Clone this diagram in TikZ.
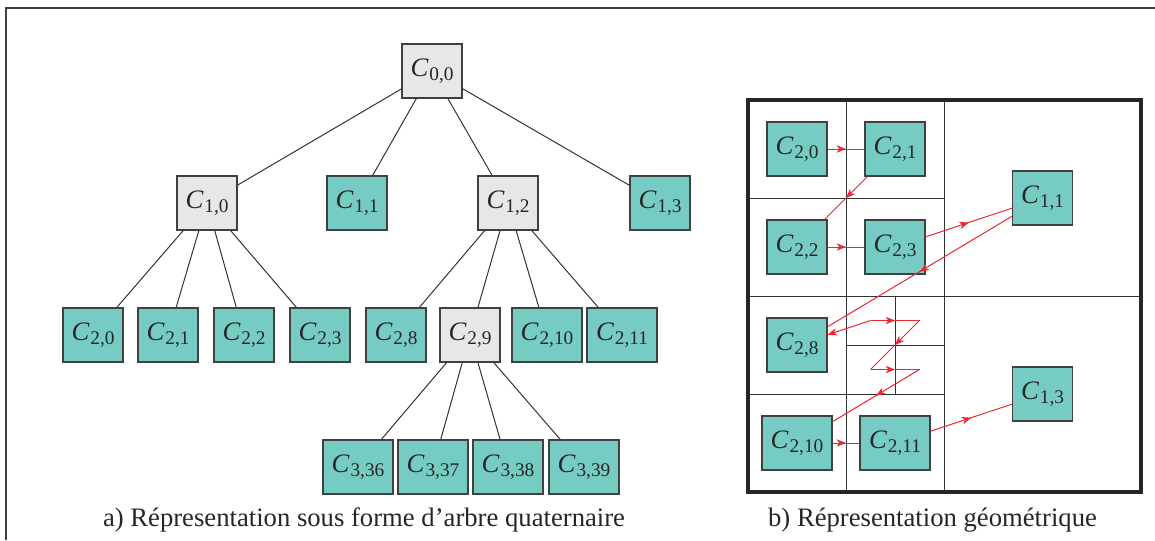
\documentclass[tikz,border=0pt]{standalone}
\usepackage{fontspec}
\setmainfont{Liberation Serif}
\usetikzlibrary{arrows.meta,decorations.markings}

\definecolor{cellteal}{RGB}{118,204,194}
\definecolor{cellgray}{RGB}{230,231,230}
\definecolor{pathred}{RGB}{238,38,48}

% cell label C_{i,j}: italic C with a smaller, slightly lowered index
\newcommand\cellname[1]{\textit{C}\kern0.03em\raisebox{-0.16em}{\fontsize{14.5}{16}\selectfont #1}}

\tikzset{flowtip/.tip={Stealth[length=7pt,width=5.5pt,inset=2pt]}}

\begin{document}
\begin{tikzpicture}[x=0.75pt,y=-0.75pt,
  cellbox/.style={draw=black!75, line width=0.9pt, minimum width=45pt,
    minimum height=40.5pt, inner sep=0pt, text=black!85,
    font=\fontsize{20}{24}\selectfont},
  leafbox/.style={cellbox, fill=cellteal},
  splitbox/.style={cellbox, fill=cellgray},
  widebox/.style={minimum width=52.5pt},
  treeline/.style={draw=black!80, line width=0.75pt},
  cellline/.style={draw=black!80, line width=0.75pt},
  flowline/.style={draw=pathred, line width=0.75pt, postaction=decorate,
    decoration={markings, mark=at position 0.5 with {\arrow{flowtip}}}},
  captext/.style={anchor=base, text=black!85, font=\fontsize{20}{24}\selectfont},
]
\useasboundingbox (0,0) rectangle (1155,540);

% surrounding frame (open to the right and bottom)
\draw[black!75, line width=1.4pt] (6,540) -- (6,8) -- (1155,8);

% ---------- a) quadtree ----------
\node[splitbox] (t00) at (432,71) {\cellname{0,0}};

\node[splitbox] (t10) at (207,203) {\cellname{1,0}};
\node[leafbox]  (t11) at (357,203) {\cellname{1,1}};
\node[splitbox] (t12) at (508,203) {\cellname{1,2}};
\node[leafbox]  (t13) at (660,203) {\cellname{1,3}};

\node[leafbox]  (t20)  at (93,335)  {\cellname{2,0}};
\node[leafbox]  (t21)  at (168,335) {\cellname{2,1}};
\node[leafbox]  (t22)  at (244,335) {\cellname{2,2}};
\node[leafbox]  (t23)  at (320,335) {\cellname{2,3}};
\node[leafbox]  (t28)  at (396,335) {\cellname{2,8}};
\node[splitbox] (t29)  at (470,335) {\cellname{2,9}};
\node[leafbox,widebox] (t210) at (547,335) {\cellname{2,10}};
\node[leafbox,widebox] (t211) at (622,335) {\cellname{2,11}};

\node[leafbox,widebox] (t336) at (358,467) {\cellname{3,36}};
\node[leafbox,widebox] (t337) at (433,467) {\cellname{3,37}};
\node[leafbox,widebox] (t338) at (508,467) {\cellname{3,38}};
\node[leafbox,widebox] (t339) at (584,467) {\cellname{3,39}};

\foreach \c in {t10,t11,t12,t13} \draw[treeline] (t00) -- (\c);
\foreach \c in {t20,t21,t22,t23} \draw[treeline] (t10) -- (\c);
\foreach \c in {t28,t29,t210,t211} \draw[treeline] (t12) -- (\c);
\foreach \c in {t336,t337,t338,t339} \draw[treeline] (t29) -- (\c);

\node[captext] (capa) at (364,526) {a) Répresentation sous forme d’arbre quaternaire};

% ---------- b) geometric subdivision ----------
\draw[cellline] (944.5,100) -- (944.5,492);
\draw[cellline] (748,296) -- (1141,296);
\draw[cellline] (846,100) -- (846,492);
\draw[cellline] (748,198) -- (944.5,198);
\draw[cellline] (748,394) -- (944.5,394);
\draw[cellline] (895.25,296) -- (895.25,394);
\draw[cellline] (846,345) -- (944.5,345);
\draw[black!85, line width=3pt] (748,100) rectangle (1141,492);

\node[leafbox] (g20) at (797,149) {\cellname{2,0}};
\node[leafbox] (g21) at (895,149) {\cellname{2,1}};
\node[leafbox] (g22) at (797,247) {\cellname{2,2}};
\node[leafbox] (g23) at (895,247) {\cellname{2,3}};
\node[leafbox] (g11) at (1042.5,198) {\cellname{1,1}};
\node[leafbox] (g28) at (797,345) {\cellname{2,8}};
\node[leafbox,widebox] (g210) at (797,443) {\cellname{2,10}};
\node[leafbox,widebox] (g211) at (895,443) {\cellname{2,11}};
\node[leafbox] (g13) at (1042.5,394) {\cellname{1,3}};

% centres of the four sub-cells of C_{2,9}
\coordinate (s36) at (870.5,320.5);
\coordinate (s37) at (919.5,320.5);
\coordinate (s38) at (870.5,369.5);
\coordinate (s39) at (919.5,369.5);

% traversal order
\draw[flowline] (g20) -- (g21);
\draw[flowline] (g21) -- (g22);
\draw[flowline] (g22) -- (g23);
\draw[flowline] (g23) -- (g11);
\draw[flowline] (g11) -- (g28);
\draw[pathred, line width=0.75pt, -{flowtip}] (s36) -- (g28);
\draw[flowline] (s36) -- (s37);
\draw[flowline] (s37) -- (s38);
\draw[flowline] (s38) -- (s39);
\draw[flowline] (s39) -- (g210);
\draw[flowline] (g210) -- (g211);
\draw[flowline] (g211) -- (g13);

\node[captext] (capb) at (932.5,526) {b) Répresentation géométrique};
\end{tikzpicture}
\end{document}
